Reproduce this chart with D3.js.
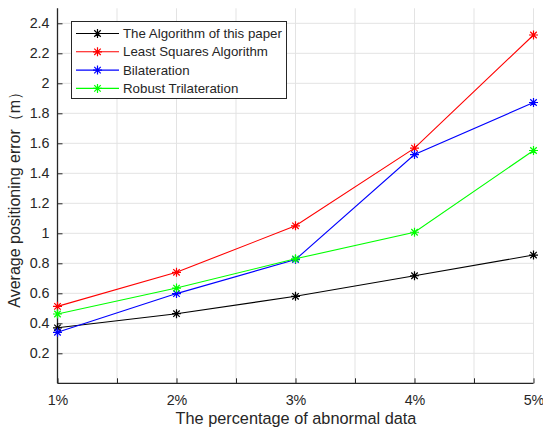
<!DOCTYPE html>
<html>
<head>
<meta charset="UTF-8">
<script src="https://d3js.org/d3.v7.min.js"></script>
<style>
  body { margin: 0; background: #fff; }
  text { font-family: "Liberation Sans", Arial, sans-serif; fill: #262626; }
</style>
</head>
<body>
<svg width="543" height="430"></svg>
<script>
var xVals = [1, 2, 3, 4, 5];
var xLabels = ["1%", "2%", "3%", "4%", "5%"];
var yTicks = [0.2, 0.4, 0.6, 0.8, 1, 1.2, 1.4, 1.6, 1.8, 2, 2.2, 2.4];
var seriesNames = ["The Algorithm of this paper", "Least Squares Algorithm", "Bilateration", "Robust Trilateration"];
var seriesColors = ["#000000", "#ff0000", "#0000ff", "#00ff00"];
var ours = [0.37, 0.464, 0.58, 0.717, 0.855];
var leastSquares = [0.513, 0.74, 1.05, 1.568, 2.322];
var bilateration = [0.34, 0.598, 0.825, 1.525, 1.872];
var robustTri = [0.462, 0.635, 0.83, 1.007, 1.552];
var allSeries = [ours, leastSquares, bilateration, robustTri];

var svg = d3.select("svg");
var pLeft = 57.5, pRight = 533.5, pTop = 8.3, pBottom = 383.3;

var x = d3.scaleLinear().domain([1, 5]).range([pLeft, pRight]);
var y = d3.scaleLinear().domain([0, 2.5]).range([pBottom, pTop]);

// grid
var xGrid = d3.range(1, 5.01, 0.5);
svg.append("g").selectAll("line").data(xGrid).enter().append("line")
  .attr("x1", d => x(d)).attr("x2", d => x(d))
  .attr("y1", pTop).attr("y2", pBottom)
  .attr("stroke", "#e3e3e3").attr("stroke-width", 1);
svg.append("g").selectAll("line").data(yTicks).enter().append("line")
  .attr("x1", pLeft).attr("x2", pRight)
  .attr("y1", d => y(d)).attr("y2", d => y(d))
  .attr("stroke", "#e3e3e3").attr("stroke-width", 1);

// axes
var xAxis = d3.axisBottom(x).tickValues(xGrid).tickSize(-5).tickPadding(12)
  .tickFormat(d => Number.isInteger(d) ? xLabels[d - 1] : "");
var gx = svg.append("g").attr("transform", "translate(0," + pBottom + ")").call(xAxis);
var yAxis = d3.axisLeft(y).tickValues(yTicks).tickSize(-5).tickPadding(8)
  .tickFormat(d3.format("~g"));
var gy = svg.append("g").attr("transform", "translate(" + pLeft + ",0)").call(yAxis);
[gx, gy].forEach(function(g) {
  g.select(".domain").attr("stroke", "#262626").attr("stroke-width", 1.3);
  g.selectAll(".tick line").attr("stroke", "#262626");
  g.selectAll("text").style("font-size", "14.3px").attr("fill", "#262626")
    .style("font-family", "'Liberation Sans', Arial, sans-serif");
});
gx.select(".domain").attr("d", "M" + pLeft + ",0H" + pRight);
gy.select(".domain").attr("d", "M0," + pBottom + "V" + pTop);

// axis labels
svg.append("text").attr("x", 296).attr("y", 424)
  .attr("text-anchor", "middle").style("font-size", "16.3px")
  .text("The percentage of abnormal data");
svg.append("text").attr("transform", "translate(20," + ((pTop + pBottom) / 2) + ") rotate(-90)")
  .attr("text-anchor", "middle").style("font-size", "16px")
  .text("Average positioning error（m）");

function star(g, cx, cy, color) {
  var r = 4.5, d = r * 0.72;
  g.append("path")
    .attr("d", "M" + (cx - r) + "," + cy + "H" + (cx + r) +
      "M" + cx + "," + (cy - r) + "V" + (cy + r) +
      "M" + (cx - d) + "," + (cy - d) + "L" + (cx + d) + "," + (cy + d) +
      "M" + (cx - d) + "," + (cy + d) + "L" + (cx + d) + "," + (cy - d))
    .attr("stroke", color).attr("stroke-width", 1.2).attr("fill", "none");
}

var line = d3.line().x((d, i) => x(xVals[i])).y(d => y(d));
allSeries.forEach(function(s, k) {
  var g = svg.append("g");
  g.append("path").datum(s).attr("d", line)
    .attr("fill", "none").attr("stroke", seriesColors[k]).attr("stroke-width", 1.1);
  s.forEach(function(v, i) { star(g, x(xVals[i]), y(v), seriesColors[k]); });
});

// legend
var lg = svg.append("g");
lg.append("rect").attr("x", 71.5).attr("y", 21.5).attr("width", 215).attr("height", 77)
  .attr("fill", "#fff").attr("stroke", "#262626").attr("stroke-width", 1);
seriesNames.forEach(function(n, k) {
  var yy = 33.5 + k * 18.3;
  lg.append("line").attr("x1", 76).attr("x2", 119).attr("y1", yy).attr("y2", yy)
    .attr("stroke", seriesColors[k]).attr("stroke-width", 1.1);
  star(lg, 97.5, yy, seriesColors[k]);
  lg.append("text").attr("x", 123).attr("y", yy + 4.6).style("font-size", "13.3px").text(n);
});
</script>
</body>
</html>
